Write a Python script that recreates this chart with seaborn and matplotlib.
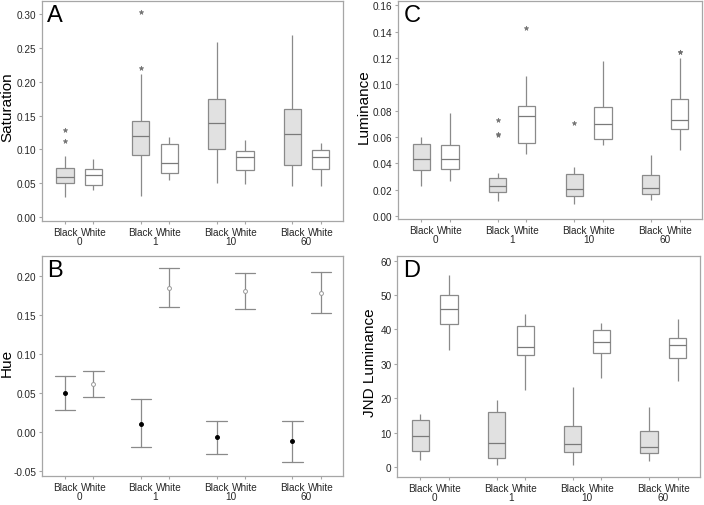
import numpy as np
import pandas as pd
import matplotlib
matplotlib.use("Agg")
import matplotlib.pyplot as plt
import seaborn as sns

# ---------------- data ----------------
groups = ["0", "1", "10", "60"]
colours = ["Black", "White"]
# order of every list below: 0-Black, 0-White, 1-Black, 1-White, 10-Black, 10-White, 60-Black, 60-White

# Saturation (panel A)
sat_lo  = [0.029, 0.039, 0.031, 0.055, 0.050, 0.049, 0.045, 0.045]
sat_q1  = [0.050, 0.047, 0.092, 0.065, 0.100, 0.070, 0.076, 0.071]
sat_med = [0.059, 0.062, 0.119, 0.079, 0.139, 0.088, 0.122, 0.088]
sat_q3  = [0.073, 0.071, 0.142, 0.108, 0.175, 0.098, 0.160, 0.099]
sat_hi  = [0.090, 0.085, 0.212, 0.118, 0.259, 0.114, 0.270, 0.109]
sat_out = [[0.113, 0.129], [], [0.220, 0.303], [], [], [], [], []]

# Luminance (panel C)
lum_lo  = [0.023, 0.027, 0.0116, 0.047, 0.0091, 0.054, 0.0119, 0.050]
lum_q1  = [0.0353, 0.0356, 0.0184, 0.0555, 0.0156, 0.0588, 0.0164, 0.0661]
lum_med = [0.0437, 0.0437, 0.0225, 0.0760, 0.0207, 0.0702, 0.0217, 0.0732]
lum_q3  = [0.0550, 0.0540, 0.0293, 0.0835, 0.0318, 0.0830, 0.0315, 0.0886]
lum_hi  = [0.060, 0.0785, 0.0326, 0.1068, 0.037, 0.1175, 0.0464, 0.120]
lum_out = [[], [], [0.0616, 0.0623, 0.073], [0.1426], [0.0709], [], [], [0.1245, 0.1250]]

# JND Luminance (panel D)
jnd_lo  = [2.2, 33.9, 0.5, 22.3, 0.5, 25.8, 1.7, 24.9]
jnd_q1  = [4.8, 41.5, 2.7, 32.7, 4.5, 33.1, 4.1, 31.7]
jnd_med = [9.0, 45.8, 7.1, 34.8, 6.6, 36.3, 5.8, 35.5]
jnd_q3  = [13.8, 49.9, 15.9, 41.1, 12.1, 39.9, 10.4, 37.6]
jnd_hi  = [15.5, 55.9, 19.4, 44.5, 23.2, 41.9, 17.4, 43.1]

# Hue (panel B): point estimate with lower / upper interval
hue_mid = [0.0497, 0.0616, 0.0109, 0.1847, -0.0066, 0.1808, -0.0117, 0.1783]
hue_low = [0.0279, 0.0454, -0.0193, 0.1595, -0.0279, 0.1574, -0.0385, 0.1519]
hue_up  = [0.0714, 0.0778, 0.0420, 0.2098, 0.0147, 0.2038, 0.0147, 0.2050]

# ---------------- helpers ----------------
def samples(lo, q1, med, q3, hi, outs):
    """Observations whose box-plot summary equals the read values."""
    low = sorted(o for o in outs if o < q1) + [lo]
    high = [hi] + sorted(o for o in outs if o > q3)
    k = max(len(low), len(high))
    n = 4 * k + 1
    v = []
    for i in range(n):
        if i < len(low):
            v.append(low[i])
        elif i >= n - len(high):
            v.append(high[i - (n - len(high))])
        elif i <= k:
            v.append(q1)
        elif i >= 3 * k:
            v.append(q3)
        else:
            v.append(med)
    return v


keys = [(g, c) for g in groups for c in colours]


def box_frame(lo, q1, med, q3, hi, outs=None):
    rows = []
    for j, (g, c) in enumerate(keys):
        o = outs[j] if outs is not None else []
        for val in samples(lo[j], q1[j], med[j], q3[j], hi[j], o):
            rows.append({"group": g, "colour": c, "value": val})
    return pd.DataFrame(rows)


df_sat = box_frame(sat_lo, sat_q1, sat_med, sat_q3, sat_hi, sat_out)
df_lum = box_frame(lum_lo, lum_q1, lum_med, lum_q3, lum_hi, lum_out)
df_jnd = box_frame(jnd_lo, jnd_q1, jnd_med, jnd_q3, jnd_hi)
hue_rows = []
for j, (g, c) in enumerate(keys):
    for val in (hue_low[j], hue_mid[j], hue_up[j]):
        hue_rows.append({"group": g, "colour": c, "value": val})
df_hue = pd.DataFrame(hue_rows)

# ---------------- style ----------------
sns.set_style("white")
plt.rcParams["font.family"] = ["Liberation Sans", "DejaVu Sans"]

SPINE = "#a6a6a6"
LINE = "#8a8a8a"
TXT = "#262626"
DODGE_W = 0.75
OFF = DODGE_W / 4

fig = plt.figure(figsize=(7.04, 5.06), dpi=100)
axA = fig.add_axes([0.0592, 0.561, 0.428, 0.435])
axC = fig.add_axes([0.565, 0.565, 0.432, 0.431])
axB = fig.add_axes([0.0592, 0.057, 0.428, 0.435])
axD = fig.add_axes([0.564, 0.055, 0.430, 0.437])

box_kw = dict(x="group", y="value", hue="colour", order=groups, hue_order=colours,
              palette={"Black": "#e1e1e1", "White": "#ffffff"}, saturation=1,
              width=DODGE_W, gap=0.4, linecolor=LINE, linewidth=0.9,
              whis=1.5, legend=False,
              capprops={"visible": False},
              medianprops={"color": "#7a7a7a", "linewidth": 0.9},
              flierprops={"marker": "*", "markersize": 3.5,
                          "markerfacecolor": "#707070", "markeredgecolor": "#707070",
                          "markeredgewidth": 0.4})

sns.boxplot(data=df_sat, ax=axA, **box_kw)
sns.boxplot(data=df_lum, ax=axC, **box_kw)
sns.boxplot(data=df_jnd, ax=axD, **box_kw)

sns.pointplot(data=df_hue, x="group", y="value", hue="colour", order=groups,
              hue_order=colours, estimator="median",
              errorbar=lambda v: (v.min(), v.max()),
              palette={"Black": "#000000", "White": "#9a9a9a"},
              markers=["o", "o"], linestyles="none", dodge=2 * OFF,
              capsize=0.27, legend=False, ax=axB,
              err_kws={"color": LINE, "linewidth": 0.9, "linestyle": "-"},
              markersize=2.8, markeredgewidth=0.7)
for ln in axB.lines:
    if ln.get_marker() not in (None, "None", "") and ln.get_color() == "#9a9a9a":
        ln.set_markerfacecolor("white")
        ln.set_zorder(5)
    elif ln.get_marker() not in (None, "None", ""):
        ln.set_zorder(5)

panels = [
    (axA, "A", "Saturation", (-0.0065, 0.3198), np.arange(0, 0.301, 0.05), "{:.2f}", -0.092),
    (axC, "C", "Luminance", (-0.0023, 0.1634), np.arange(0, 0.161, 0.02), "{:.2f}", -0.089),
    (axB, "B", "Hue", (-0.056, 0.225), np.arange(-0.05, 0.201, 0.05), "{:.2f}", -0.092),
    (axD, "D", "JND Luminance", (-2.9, 61.3), np.arange(0, 61, 10), "{:.0f}", -0.066),
]

for ax, letter, ylab, ylim, yt, fmt, lx in panels:
    ax.set_xlim(-0.495, 3.48)
    ax.set_ylim(*ylim)
    ax.set_yticks(yt)
    ax.set_yticklabels([fmt.format(v + 0.0).replace("-0.00", "0.00") for v in yt])
    pos = [i + d for i in range(len(groups)) for d in (-OFF, OFF)]
    ax.set_xticks(pos)
    ax.set_xticklabels([c for _ in groups for c in colours])
    ax.tick_params(axis="both", labelsize=7.2, colors=SPINE, labelcolor=TXT,
                   length=2.5, width=0.8, pad=1.5, left=True, bottom=True)
    ax.set_xlabel("")
    ax.set_ylabel(ylab, fontsize=11, color="black")
    ax.yaxis.set_label_coords(lx, 0.52)
    for sp in ax.spines.values():
        sp.set_color(SPINE)
        sp.set_linewidth(0.9)
    for i, g in enumerate(groups):
        ax.annotate(g, xy=(i, 0), xycoords=("data", "axes fraction"),
                    xytext=(0, -14.5), textcoords="offset points",
                    ha="center", va="center", fontsize=7.2, color=TXT,
                    annotation_clip=False)
    ax.text(0.019, 0.985, letter, transform=ax.transAxes, ha="left", va="top",
            fontsize=17, color="black")

fig.savefig("out.png", dpi=100)
